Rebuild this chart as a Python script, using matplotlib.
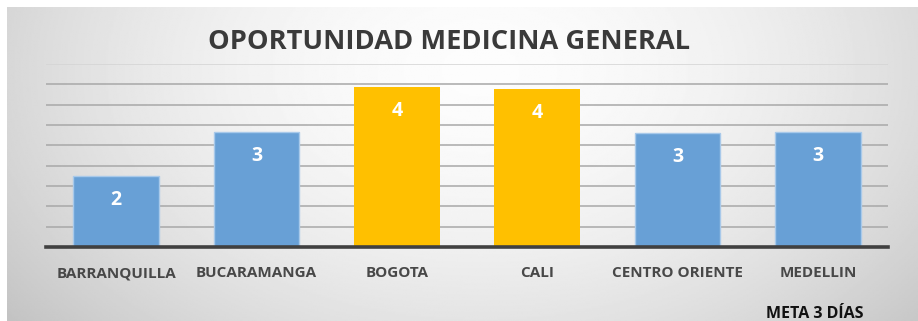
import numpy as np
import matplotlib.pyplot as plt

# oportunidad de cita (dias) por regional
regionales = ["BARRANQUILLA", "BUCARAMANGA", "BOGOTA", "CALI", "CENTRO ORIENTE", "MEDELLIN"]
dias = [1.75, 2.83, 3.94, 3.89, 2.80, 2.83]
meta = 3

azul = "#68a0d6"
amarillo = "#ffc000"
colores = [amarillo if d > meta + 0.5 else azul for d in dias]

plt.rcParams["font.family"] = ["Open Sans", "DejaVu Sans"]

fig = plt.figure(figsize=(9.18, 3.21), dpi=100, facecolor="white")

# fondo con degradado radial claro al centro
bg = fig.add_axes([7 / 918, 0, 1 - 7 / 918, 1 - 7 / 321])
yy, xx = np.mgrid[0:1:200j, 0:1:600j]
r = np.sqrt(((xx - 0.52) / 0.62) ** 2 + ((yy - 0.2) / 1.2) ** 2)
g = np.clip(0.99 - 0.2 * r ** 1.8, 0.76, 1.0)
bg.imshow(g, cmap="gray", vmin=0, vmax=1, aspect="auto", extent=[0, 1, 1, 0])
bg.axis("off")

ax = fig.add_axes([46 / 918, 1 - 247 / 321, 842 / 918, (247 - 64) / 321])
ax.set_facecolor("none")
x = np.arange(len(regionales))
barras = ax.bar(x, dias, width=0.61, color=colores, zorder=3)
for b, c in zip(barras, colores):
    if c == azul:
        b.set_edgecolor("#a8c9ea")
        b.set_linewidth(1)

for xi, d in zip(x, dias):
    ax.annotate(f"{d:.0f}", (xi, d), xytext=(0, -17.5), textcoords="offset points",
                ha="center", va="center", color="white", fontsize=14,
                fontweight="bold", zorder=4)

ax.set_xlim(-0.5, len(regionales) - 0.5)
ax.set_ylim(0, 4.5)
for v in np.arange(0.5, 4.1, 0.5):
    ax.axhline(v, color="#a8a8a8", lw=1.1, zorder=1)
ax.axhline(4.5, color="#d4d4d4", lw=1.1, zorder=1)
ax.axhline(0, color="#404040", lw=2.6, zorder=5, clip_on=False)

ax.set_yticks([])
ax.set_xticks([])
for s in ax.spines.values():
    s.set_visible(False)
for xi, nombre in zip(x, regionales):
    ax.text(xi, -0.74, nombre, ha="center", va="baseline",
            fontsize=11, fontweight="bold", color="#484848", clip_on=False)

fig.text(0.489, 0.868, "OPORTUNIDAD MEDICINA GENERAL", ha="center", va="center",
         fontsize=19.6, fontweight="bold", color="#3a3a3a")
fig.text(0.888, 0.01, "META 3 DÍAS", ha="center", va="baseline",
         fontsize=11.5, fontweight="bold", color="#111111")

fig.savefig("out.png", dpi=100, facecolor="white")
